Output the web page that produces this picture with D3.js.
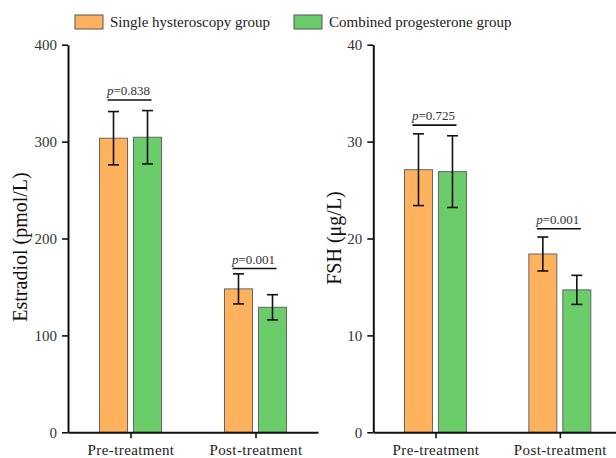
<!DOCTYPE html>
<html>
<head>
<meta charset="utf-8">
<script src="https://cdn.jsdelivr.net/npm/d3@7"></script>
<style>
  html, body { margin: 0; padding: 0; background: #fff; }
  svg { display: block; font-family: "Liberation Serif", "Times New Roman", serif; }
</style>
</head>
<body>
<svg id="chart" width="616" height="458"></svg>
<script>
// ---- data ----
const categories = ["Pre-treatment", "Post-treatment"];
const seriesNames = ["Single hysteroscopy group", "Combined progesterone group"];
const seriesColors = ["#FFB25E", "#6ACD6A"];

const estradiolMean = [[303.5, 148], [304.5, 129]];   // [series][category]
const estradiolSD   = [[27.5, 15.5], [27.5, 13]];
const estradiolP    = ["0.838", "0.001"];
const estradiolPLine = [343, 169];
const estradiolTicks = [0, 100, 200, 300, 400];

const fshMean = [[27.1, 18.4], [26.9, 14.7]];
const fshSD   = [[3.7, 1.75], [3.7, 1.5]];
const fshP    = ["0.725", "0.001"];
const fshPLine = [31.7, 21.0];
const fshTicks = [0, 10, 20, 30, 40];

const svg = d3.select("#chart");

function panel(cfg) {
  const g = svg.append("g");
  const x = d3.scalePoint().domain(categories).range(cfg.xRange).padding(0.5);
  const y = d3.scaleLinear().domain(cfg.yDomain).range([432.3, 44.7]);
  const x1 = d3.scaleBand().domain(seriesNames).range([-31, 31]).paddingInner(0.176);

  // bars
  seriesNames.forEach((s, si) => {
    categories.forEach((c, ci) => {
      const v = cfg.mean[si][ci];
      g.append("rect")
        .attr("x", x(c) + x1(s))
        .attr("y", y(v))
        .attr("width", x1.bandwidth())
        .attr("height", y(0) - y(v))
        .attr("fill", seriesColors[si])
        .attr("stroke", "#666")
        .attr("stroke-width", 1);
    });
  });

  // error bars
  seriesNames.forEach((s, si) => {
    categories.forEach((c, ci) => {
      const v = cfg.mean[si][ci], sd = cfg.sd[si][ci];
      const cx = x(c) + x1(s) + x1.bandwidth() / 2;
      const eg = g.append("g").attr("stroke", "#111").attr("stroke-width", 1.6);
      eg.append("line").attr("x1", cx).attr("x2", cx).attr("y1", y(v + sd)).attr("y2", y(v - sd));
      eg.append("line").attr("x1", cx - 5.5).attr("x2", cx + 5.5).attr("y1", y(v + sd)).attr("y2", y(v + sd));
      eg.append("line").attr("x1", cx - 5.5).attr("x2", cx + 5.5).attr("y1", y(v - sd)).attr("y2", y(v - sd));
    });
  });

  // p-value annotations
  categories.forEach((c, ci) => {
    const cx = x(c) - 1;
    const ly = y(cfg.pLine[ci]);
    g.append("line").attr("x1", cx - 22).attr("x2", cx + 22).attr("y1", ly).attr("y2", ly)
      .attr("stroke", "#111").attr("stroke-width", 1.6);
    const t = g.append("text").attr("x", cx - 1).attr("y", ly - 5)
      .attr("text-anchor", "middle").attr("font-size", 13).attr("fill", "#333");
    t.append("tspan").attr("font-style", "italic").text("p");
    t.append("tspan").text("=" + cfg.p[ci]);
  });

  // y axis
  const ya = g.append("g").attr("transform", `translate(${cfg.xRange[0]},0)`)
    .call(d3.axisLeft(y).tickValues(cfg.ticks).tickSize(6).tickSizeOuter(0).tickPadding(5));
  ya.select(".domain").attr("stroke", "#111").attr("stroke-width", 2);
  ya.selectAll(".tick line").attr("stroke", "#111").attr("stroke-width", 1.6);
  ya.selectAll(".tick text").attr("font-size", 15).attr("fill", "#333")
    .attr("font-family", "Liberation Serif, Times New Roman, serif");

  // x axis
  const xa = g.append("g").attr("transform", `translate(0,${y(0)})`)
    .call(d3.axisBottom(x).tickSize(6).tickSizeOuter(0).tickPadding(6));
  xa.select(".domain").attr("stroke", "#111").attr("stroke-width", 2);
  xa.selectAll(".tick line").attr("stroke", "#111").attr("stroke-width", 1.6);
  xa.selectAll(".tick text").attr("font-size", 15).attr("fill", "#222")
    .attr("letter-spacing", 0.4)
    .attr("font-family", "Liberation Serif, Times New Roman, serif");

  // y title
  g.append("text")
    .attr("transform", `translate(${cfg.titleX},${cfg.titleY}) rotate(-90)`)
    .attr("text-anchor", "middle")
    .attr("font-size", 20)
    .attr("fill", "#111")
    .text(cfg.title);
}

panel({ xRange: [68, 318], yDomain: [0, 400], mean: estradiolMean, sd: estradiolSD,
        p: estradiolP, pLine: estradiolPLine, ticks: estradiolTicks,
        title: "Estradiol (pmol/L)", titleX: 27, titleY: 247 });
panel({ xRange: [373.3, 622], yDomain: [0, 40], mean: fshMean, sd: fshSD,
        p: fshP, pLine: fshPLine, ticks: fshTicks,
        title: "FSH (μg/L)", titleX: 341, titleY: 238 });

// legend
const legendX = [75, 294];
seriesNames.forEach((s, i) => {
  svg.append("rect").attr("x", legendX[i]).attr("y", 15).attr("width", 28).attr("height", 14)
    .attr("fill", seriesColors[i]).attr("stroke", "#555").attr("stroke-width", 1);
  svg.append("text").attr("x", legendX[i] + 35).attr("y", 27)
    .attr("font-size", 15).attr("fill", "#222").text(s);
});
</script>
</body>
</html>
